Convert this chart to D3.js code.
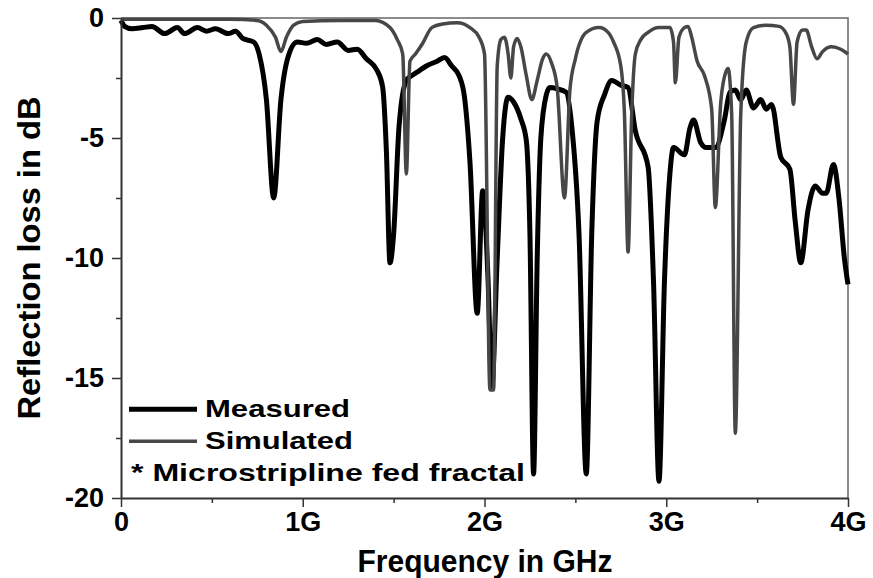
<!DOCTYPE html>
<html>
<head>
<meta charset="utf-8">
<script src="https://cdn.jsdelivr.net/npm/d3@7"></script>
<style>
  body { margin: 0; background: #fff; }
  text { font-family: "Liberation Sans", Arial, sans-serif; font-weight: bold; }
</style>
</head>
<body>
<div id="chart"></div>
<script>
// Measured curve: [GHz, dB]
const measured = [
  [0.00,-0.10],[0.02,-0.35],[0.06,-0.45],[0.12,-0.40],[0.17,-0.35],[0.24,-0.65],[0.31,-0.40],
  [0.35,-0.65],[0.42,-0.40],[0.47,-0.55],[0.52,-0.45],[0.59,-0.65],[0.63,-0.55],[0.67,-0.85],
  [0.73,-1.00],[0.76,-1.50],[0.80,-3.40],[0.84,-7.50],[0.88,-3.40],[0.92,-1.60],[0.97,-1.00],
  [1.02,-1.05],[1.08,-0.90],[1.13,-1.10],[1.19,-1.00],[1.25,-1.35],[1.30,-1.30],[1.35,-1.70],
  [1.41,-2.20],[1.44,-2.90],[1.46,-5.50],[1.48,-10.2],[1.50,-9.00],[1.53,-4.50],[1.57,-2.60],
  [1.60,-2.40],[1.64,-2.20],[1.68,-2.00],[1.74,-1.80],[1.78,-1.65],[1.82,-2.00],[1.86,-2.40],
  [1.89,-3.30],[1.92,-6.00],[1.96,-12.3],[1.99,-7.20],[2.02,-11.0],[2.04,-15.4],[2.07,-10.0],
  [2.10,-5.00],[2.13,-3.30],[2.16,-3.50],[2.20,-4.20],[2.23,-5.10],[2.25,-9.00],[2.27,-19.0],
  [2.29,-10.0],[2.31,-5.00],[2.34,-3.20],[2.36,-2.90],[2.40,-2.95],[2.45,-3.10],[2.48,-4.50],
  [2.52,-9.00],[2.56,-19.0],[2.59,-9.00],[2.62,-4.30],[2.66,-3.20],[2.70,-2.60],[2.75,-2.80],
  [2.79,-2.90],[2.83,-4.70],[2.90,-6.20],[2.93,-11.0],[2.96,-19.3],[2.99,-11.0],[3.02,-6.50],
  [3.04,-5.40],[3.10,-5.70],[3.13,-4.60],[3.15,-4.25],[3.19,-5.20],[3.22,-5.40],[3.27,-5.40],
  [3.32,-4.25],[3.35,-3.10],[3.38,-3.00],[3.41,-3.40],[3.44,-3.00],[3.48,-3.75],[3.52,-3.40],
  [3.55,-3.80],[3.58,-3.60],[3.63,-5.80],[3.68,-6.30],[3.71,-8.50],[3.74,-10.2],[3.78,-8.00],
  [3.82,-7.00],[3.86,-7.30],[3.88,-7.30],[3.92,-6.10],[3.95,-7.50],[3.98,-10.0],[4.00,-11.1]
];

// Simulated curve: [GHz, dB]
const simulated = [
  [0.00,-0.05],[0.30,-0.05],[0.60,-0.05],[0.75,-0.10],[0.80,-0.30],[0.85,-0.80],[0.88,-1.40],
  [0.91,-0.80],[0.95,-0.30],[1.00,-0.15],[1.20,-0.10],[1.40,-0.10],[1.48,-0.40],[1.52,-0.90],
  [1.55,-1.50],[1.57,-6.50],[1.59,-1.80],[1.62,-1.50],[1.66,-1.05],[1.71,-0.40],[1.77,-0.25],
  [1.85,-0.20],[1.92,-0.40],[1.97,-0.80],[2.00,-1.50],[2.03,-15.5],[2.05,-15.5],[2.07,-2.00],
  [2.09,-0.90],[2.11,-0.80],[2.13,-1.50],[2.145,-2.50],[2.16,-1.20],[2.18,-0.85],[2.20,-1.20],
  [2.23,-2.40],[2.26,-3.40],[2.29,-2.60],[2.32,-1.70],[2.34,-1.50],[2.37,-1.90],[2.40,-2.90],
  [2.44,-7.50],[2.47,-3.00],[2.50,-1.70],[2.56,-0.60],[2.63,-0.40],[2.68,-0.60],[2.71,-1.00],
  [2.75,-2.00],[2.77,-4.00],[2.79,-9.75],[2.81,-4.00],[2.83,-1.50],[2.86,-0.90],[2.90,-0.60],
  [2.96,-0.40],[3.02,-0.40],[3.04,-1.00],[3.05,-2.70],[3.07,-0.80],[3.10,-0.40],[3.12,-0.35],
  [3.14,-0.80],[3.17,-1.80],[3.21,-2.40],[3.25,-3.80],[3.27,-7.90],[3.30,-3.50],[3.33,-2.20],
  [3.34,-2.10],[3.36,-4.00],[3.38,-17.3],[3.41,-4.00],[3.44,-1.00],[3.48,-0.40],[3.55,-0.30],
  [3.62,-0.35],[3.66,-0.65],[3.68,-1.20],[3.70,-3.60],[3.72,-1.00],[3.75,-0.50],[3.77,-0.50],
  [3.80,-1.20],[3.83,-1.70],[3.86,-1.40],[3.91,-1.20],[3.96,-1.30],[4.00,-1.50]
];

const xTicks = [0, 1, 2, 3, 4];
const xTickLabels = ["0", "1G", "2G", "3G", "4G"];
const yTicks = [0, -5, -10, -15, -20];
const legendItems = ["Measured", "Simulated"];
const note = "* Microstripline fed fractal";

const width = 873;
const height = 578;
const margin = { top: 18, right: 25, bottom: 80, left: 121 };
const boundedWidth = width - margin.left - margin.right;
const boundedHeight = height - margin.top - margin.bottom;

const svg = d3.select("#chart")
  .append("svg")
  .attr("width", width)
  .attr("height", height);

const bounds = svg.append("g")
  .attr("transform", `translate(${margin.left},${margin.top})`);

const xScale = d3.scaleLinear().domain([0, 4]).range([0, boundedWidth]);
const yScale = d3.scaleLinear().domain([-20, 0]).range([boundedHeight, 0]);

// frame (top + right)
bounds.append("path")
  .attr("d", `M0,0H${boundedWidth}V${boundedHeight}`)
  .attr("fill", "none")
  .attr("stroke", "#666")
  .attr("stroke-width", 1.5);

// curves
const line = d3.line()
  .x(d => xScale(d[0]))
  .y(d => yScale(d[1]))
  .curve(d3.curveMonotoneX);

bounds.append("path")
  .datum(measured)
  .attr("d", line)
  .attr("fill", "none")
  .attr("stroke", "#000")
  .attr("stroke-width", 5)
  .attr("stroke-linejoin", "round");

bounds.append("path")
  .datum(simulated)
  .attr("d", line)
  .attr("fill", "none")
  .attr("stroke", "#474747")
  .attr("stroke-width", 3.5)
  .attr("stroke-linejoin", "round");

// minor ticks
const xAxisMinor = d3.axisBottom(xScale)
  .tickValues(d3.range(0.5, 4, 1))
  .tickSize(5)
  .tickFormat("");
bounds.append("g")
  .attr("transform", `translate(0,${boundedHeight})`)
  .call(xAxisMinor)
  .call(g => g.select(".domain").remove())
  .call(g => g.selectAll("line").attr("stroke", "#333").attr("stroke-width", 1.5));

const yAxisMinor = d3.axisLeft(yScale)
  .tickValues([-2.5, -7.5, -12.5, -17.5])
  .tickSize(5)
  .tickFormat("");
bounds.append("g")
  .call(yAxisMinor)
  .call(g => g.select(".domain").remove())
  .call(g => g.selectAll("line").attr("stroke", "#333").attr("stroke-width", 1.5));

// major axes
const xAxis = d3.axisBottom(xScale)
  .tickValues(xTicks)
  .tickSize(9)
  .tickSizeOuter(0)
  .tickPadding(5)
  .tickFormat((d, i) => xTickLabels[i]);
bounds.append("g")
  .attr("transform", `translate(0,${boundedHeight})`)
  .call(xAxis)
  .call(g => g.select(".domain").attr("stroke", "#333").attr("stroke-width", 2))
  .call(g => g.selectAll("line").attr("stroke", "#333").attr("stroke-width", 1.5))
  .call(g => g.selectAll("text")
    .attr("fill", "#000")
    .style("font-size", "27px")
    .style("font-family", "'Liberation Sans', Arial, sans-serif")
    .style("font-weight", "bold"));

const yAxis = d3.axisLeft(yScale)
  .tickValues(yTicks)
  .tickSize(9)
  .tickSizeOuter(0)
  .tickPadding(8)
  .tickFormat(d => String(d));
bounds.append("g")
  .call(yAxis)
  .call(g => g.select(".domain").attr("stroke", "#333").attr("stroke-width", 2))
  .call(g => g.selectAll("line").attr("stroke", "#333").attr("stroke-width", 1.5))
  .call(g => g.selectAll("text")
    .attr("fill", "#000")
    .style("font-size", "27px")
    .style("font-family", "'Liberation Sans', Arial, sans-serif")
    .style("font-weight", "bold"));

// axis titles
svg.append("text")
  .attr("x", 485)
  .attr("y", 572)
  .attr("text-anchor", "middle")
  .attr("font-size", 31)
  .attr("textLength", 255)
  .attr("lengthAdjust", "spacingAndGlyphs")
  .text("Frequency in GHz");

svg.append("text")
  .attr("transform", "translate(40,258) rotate(-90)")
  .attr("text-anchor", "middle")
  .attr("font-size", 31)
  .attr("textLength", 323)
  .attr("lengthAdjust", "spacingAndGlyphs")
  .text("Reflection loss in dB");

// legend
const legendColors = ["#000", "#474747"];
const legendWidths = [5, 3.5];
const legend = bounds.append("g");
legendItems.forEach((name, i) => {
  const y = yScale(-16.3) + i * 32;
  legend.append("line")
    .attr("x1", 8).attr("x2", 76)
    .attr("y1", y).attr("y2", y)
    .attr("stroke", legendColors[i])
    .attr("stroke-width", legendWidths[i]);
  legend.append("text")
    .attr("x", 84)
    .attr("y", y + 8)
    .attr("font-size", 24)
    .attr("textLength", i === 0 ? 145 : 148)
    .attr("lengthAdjust", "spacingAndGlyphs")
    .text(name);
});
legend.append("text")
  .attr("x", 10)
  .attr("y", yScale(-16.3) + 72)
  .attr("font-size", 24)
  .attr("textLength", 394)
  .attr("lengthAdjust", "spacingAndGlyphs")
  .text(note);
</script>
</body>
</html>
